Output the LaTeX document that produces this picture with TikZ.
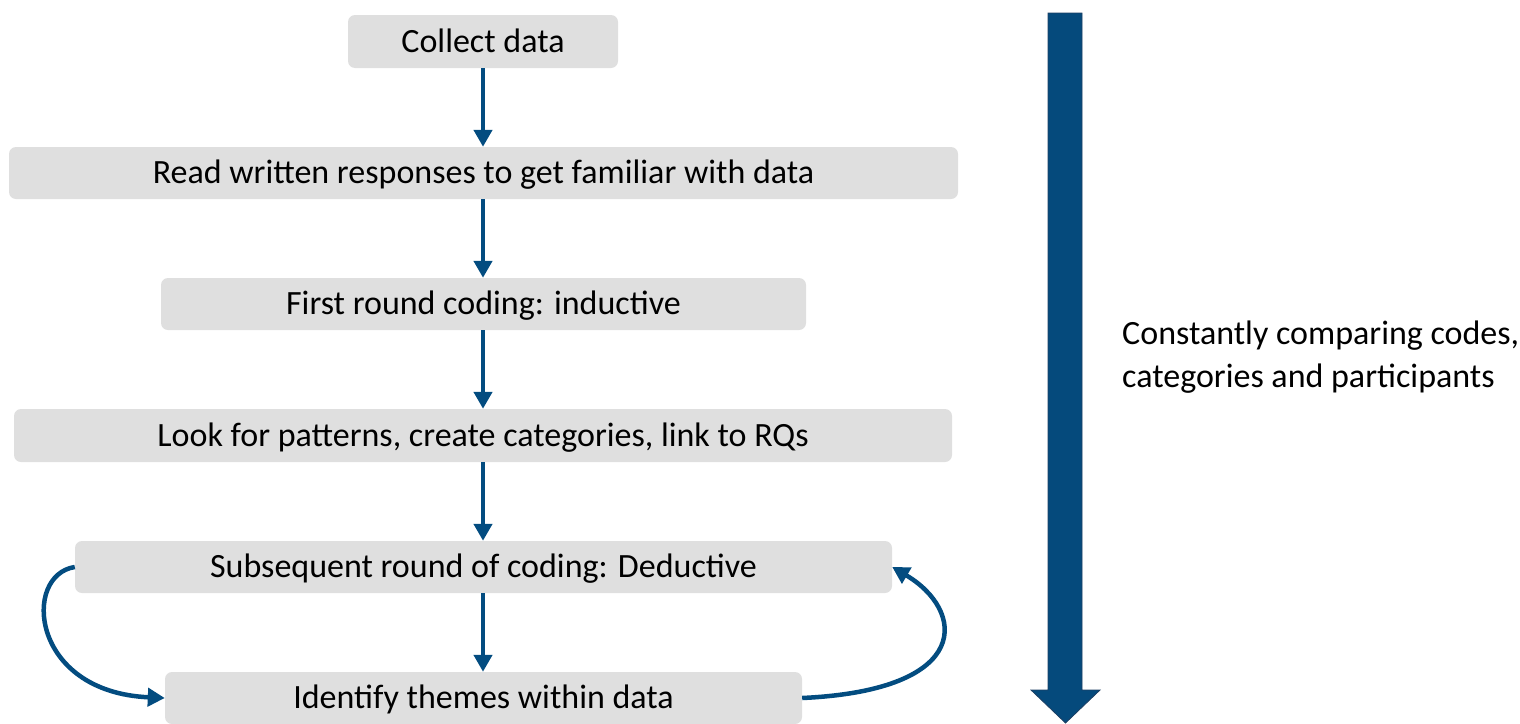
\documentclass[tikz,border=0pt]{standalone}
\usepackage{fontspec}
\setmainfont{Carlito}
\usetikzlibrary{arrows.meta}
\definecolor{boxgray}{HTML}{DFDFDF}
\definecolor{arrowblue}{HTML}{034C80}
\definecolor{bigblue}{HTML}{054A7C}
\definecolor{bigedge}{HTML}{1D3F63}
\begin{document}
\begin{tikzpicture}[x=1pt,y=-1pt,
  stepbox/.style={rectangle, rounded corners=7pt, fill=boxgray, inner sep=0pt,
    font=\fontsize{34}{40}\selectfont, text height=27pt, text depth=6pt},
  flow/.style={draw=arrowblue, line width=4.5pt,
    -{Triangle[length=17pt,width=18pt]}},
  loop/.style={draw=arrowblue, line width=4.5pt,
    -{Triangle[length=17pt,width=18pt]}}
]
\useasboundingbox (0,0) rectangle (1520,723);
\node[stepbox, minimum width=270pt, minimum height=53pt] (b1) at (483,41.5) {Collect data};
\node[stepbox, minimum width=949pt, minimum height=52pt] (b2) at (483.5,173) {Read written responses to get familiar with data};
\node[stepbox, minimum width=645pt, minimum height=52pt] (b3) at (483.5,304) {First round coding: inductive};
\node[stepbox, minimum width=938pt, minimum height=53pt] (b4) at (483,435.5) {Look for patterns, create categories, link to RQs};
\node[stepbox, minimum width=817pt, minimum height=52pt] (b5) at (483.5,567) {Subsequent round of coding: Deductive};
\node[stepbox, minimum width=637pt, minimum height=52pt] (b6) at (483.5,698) {Identify themes within data};

\draw[flow] (b1.south) -- (b1.south |- b2.north);
\draw[flow] (b1.south |- b2.south) -- (b1.south |- b3.north);
\draw[flow] (b1.south |- b3.south) -- (b1.south |- b4.north);
\draw[flow] (b1.south |- b4.south) -- (b1.south |- b5.north);
\draw[flow] (b1.south |- b5.south) -- (b1.south |- b6.north);

\draw[loop] (b5.west) .. controls (22,575) and (30,692) .. (b6.west);
\draw[loop] (b6.east) .. controls (975,690) and (965,610) .. (b5.east);

% big arrow
\fill[bigblue, draw=bigedge, line width=0.8pt]
  (1048,13) -- (1082,13) -- (1082,690) -- (1100,690) -- (1065.5,723)
  -- (1031,690) -- (1048,690) -- cycle;

\node[anchor=west, align=left, font=\fontsize{34}{43}\selectfont, inner sep=0pt] (note) at (1122,357)
  {Constantly comparing codes,\\categories and participants};
\end{tikzpicture}
\end{document}
